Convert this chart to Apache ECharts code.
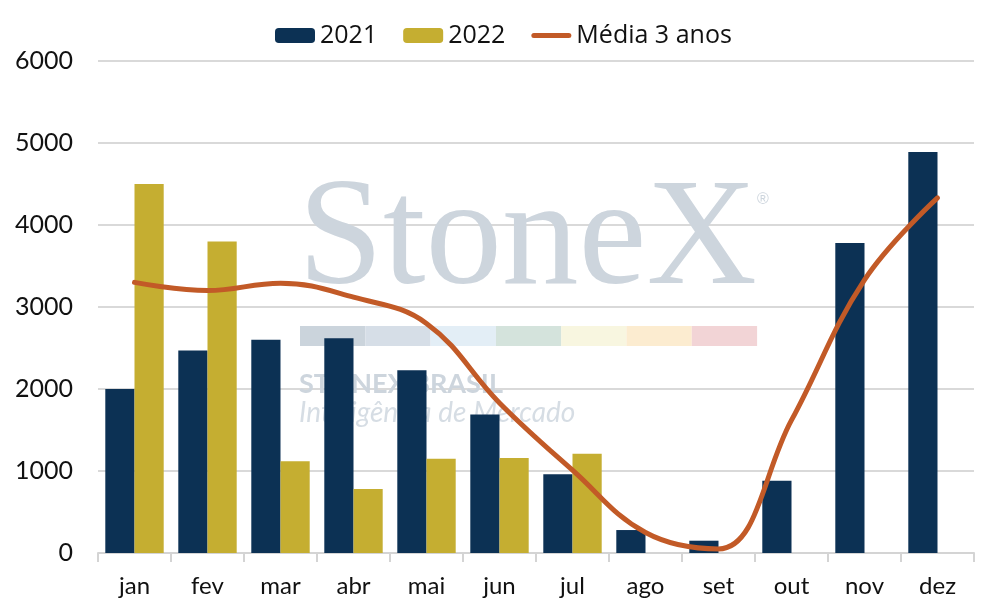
<!DOCTYPE html>
<html>
<head>
<meta charset="utf-8">
<script src="https://cdn.jsdelivr.net/npm/echarts@6/dist/echarts.min.js"></script>
<style>
  html, body { margin: 0; padding: 0; background: #fff; }
  #chart { width: 997px; height: 614px; }
</style>
</head>
<body>
<div id="chart"></div>
<script>
// dados
var meses = ['jan', 'fev', 'mar', 'abr', 'mai', 'jun', 'jul', 'ago', 'set', 'out', 'nov', 'dez'];
var valores2021 = [2000, 2470, 2600, 2620, 2230, 1690, 960, 280, 150, 880, 3780, 4890];
var valores2022 = [4500, 3800, 1120, 780, 1150, 1160, 1210, null, null, null, null, null];
var media3anos = [3300, 3200, 3290, 3120, 2800, 1830, 1010, 250, 50, 1620, 3330, 4330];
var ticksY = [0, 1000, 2000, 3000, 4000, 5000, 6000];

var myChart = echarts.init(document.getElementById('chart'));

// faixa colorida da marca d'agua
var faixaCores = ['#cbd4dc', '#d6dee7', '#e3eef6', '#d4e3dc', '#f8f6e0', '#fcecd0', '#f2d4d6'];
var faixa = faixaCores.map(function (c, i) {
    return {
        type: 'rect',
        left: 300 + i * 65.3,
        top: 326,
        shape: { width: 65.3, height: 20 },
        style: { fill: c },
        z: 1
    };
});

var option = {
    animation: false,
    textStyle: { fontFamily: 'Lato, "Noto Sans", sans-serif' },
    legend: {
        top: 18,
        left: 270,
        itemWidth: 40,
        itemHeight: 15,
        itemGap: 26,
        textStyle: { fontSize: 25, color: '#111', fontFamily: '"Open Sans", sans-serif' },
        data: [
            '2021',
            '2022',
            { name: 'Média 3 anos', icon: 'path://M0,0 M40,15 M2.5,5 L37.5,5 A2.5,2.5 0 0 1 37.5,10 L2.5,10 A2.5,2.5 0 0 1 2.5,5 Z' }
        ]
    },
    graphic: [
        {
            type: 'text',
            left: 298,
            top: 166,
            style: {
                text: 'StoneX',
                font: '153px "Liberation Serif", serif',
                fill: '#cdd5dd'
            },
            z: 1
        },
        {
            type: 'text',
            left: 757,
            top: 192,
            style: { text: '®', font: '16px sans-serif', fill: '#cdd5dd' },
            z: 1
        },
        {
            type: 'text',
            left: 299,
            top: 371,
            style: { text: 'STONEX BRASIL', font: 'bold 27px Lato, sans-serif', fill: '#cdd5dd' },
            z: 1
        },
        {
            type: 'text',
            left: 299,
            top: 399,
            style: { text: 'Inteligência de Mercado', font: 'italic 28px Lato, sans-serif', fill: '#d6dde4' },
            z: 1
        }
    ].concat(faixa),
    grid: {
        left: 98,
        right: 23,
        top: 61,
        bottom: 61,
        containLabel: false
    },
    xAxis: {
        type: 'category',
        data: meses,
        axisLine: { lineStyle: { color: '#d4d4d4', width: 2 } },
        axisTick: { show: true, length: 9, lineStyle: { color: '#d4d4d4', width: 2 } },
        axisLabel: { fontSize: 24, color: '#111', margin: 21 }
    },
    yAxis: {
        type: 'value',
        min: ticksY[0],
        max: ticksY[ticksY.length - 1],
        interval: 1000,
        axisLine: { show: false },
        axisTick: { show: false },
        axisLabel: {
            fontSize: 25,
            color: '#111',
            margin: 25,
            formatter: function (v) { return String(v); }
        },
        splitLine: { lineStyle: { color: '#d9d9d9', width: 2 } }
    },
    series: [
        {
            name: '2021',
            type: 'bar',
            data: valores2021,
            barGap: '0%',
            barCategoryGap: '20%',
            itemStyle: { color: '#0c3154' },
            z: 2
        },
        {
            name: '2022',
            type: 'bar',
            data: valores2022,
            itemStyle: { color: '#c5ae31' },
            z: 2
        },
        {
            name: 'Média 3 anos',
            type: 'line',
            data: media3anos,
            smooth: 0.4,
            symbol: 'none',
            lineStyle: { color: '#c25a27', width: 5, cap: 'round', join: 'round' },
            itemStyle: { color: '#c25a27' },
            z: 3
        }
    ]
};

myChart.setOption(option);

window.addEventListener('resize', function () {
    myChart.resize();
});
</script>
</body>
</html>
